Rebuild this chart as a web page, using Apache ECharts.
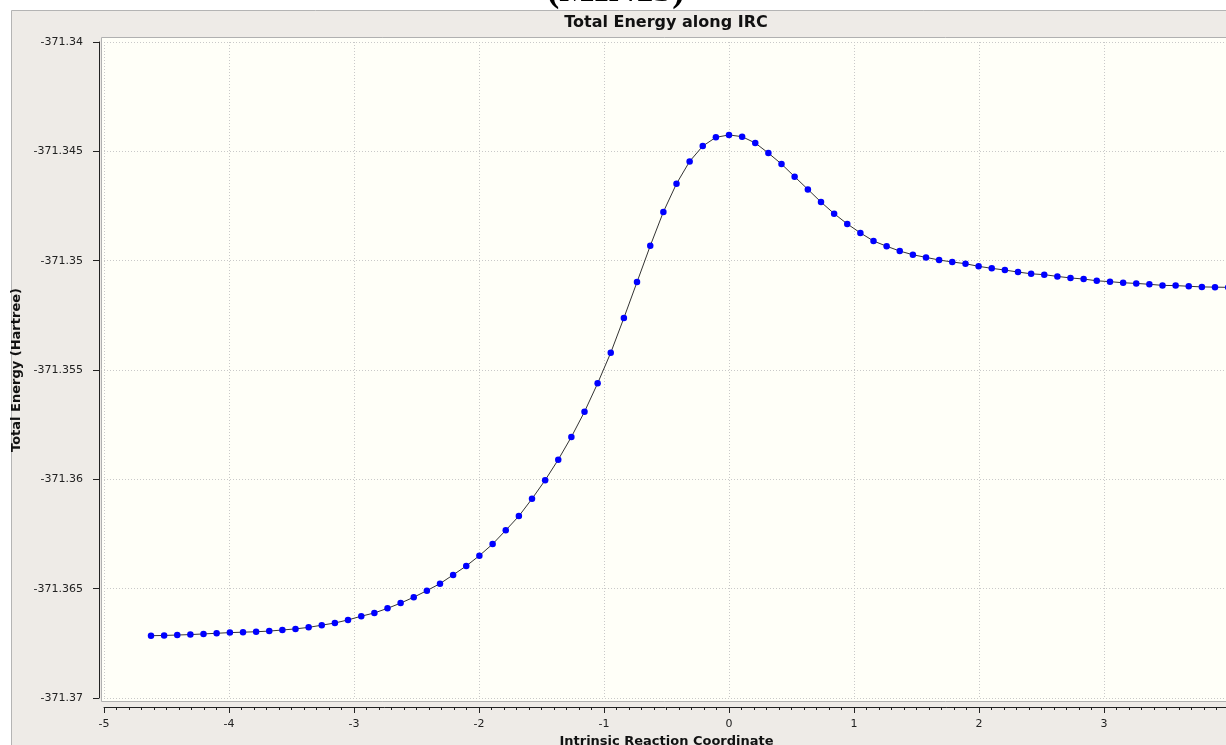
<!DOCTYPE html>
<html>
<head>
<meta charset="utf-8">
<script src="https://cdn.jsdelivr.net/npm/echarts@6/dist/echarts.min.js"></script>
<style>
html,body{margin:0;padding:0;background:#ffffff;}
#chart{width:1226px;height:745px;}
</style>
</head>
<body>
<div id="chart"></div>
<script>
// Intrinsic reaction coordinate values
const irc = [
 -4.624,-4.519,-4.414,-4.309,-4.204,-4.099,-3.993,-3.888,-3.783,-3.678,
 -3.573,-3.468,-3.363,-3.258,-3.153,-3.048,-2.942,-2.837,-2.732,-2.627,
 -2.522,-2.417,-2.312,-2.207,-2.102,-1.997,-1.891,-1.786,-1.681,-1.576,
 -1.471,-1.366,-1.261,-1.156,-1.051,-0.946,-0.841,-0.736,-0.630,-0.525,
 -0.420,-0.315,-0.210,-0.105,0.000,0.105,0.210,0.315,0.420,0.525,
 0.631,0.736,0.841,0.946,1.051,1.156,1.261,1.366,1.471,1.576,
 1.681,1.786,1.892,1.997,2.102,2.207,2.312,2.417,2.522,2.627,
 2.732,2.837,2.942,3.048,3.153,3.258,3.363,3.468,3.573,3.678,
 3.783,3.888,3.993
];
// Total energy (Hartree) at each IRC point
const energy = [
 -371.36715,-371.36714,-371.36712,-371.36710,-371.36707,-371.36704,-371.36701,-371.36699,-371.36697,-371.36694,
 -371.36689,-371.36684,-371.36677,-371.36667,-371.36657,-371.36643,-371.36626,-371.36611,-371.36590,-371.36566,
 -371.36539,-371.36509,-371.36477,-371.36437,-371.36396,-371.36349,-371.36296,-371.36233,-371.36168,-371.36089,
 -371.36004,-371.35910,-371.35806,-371.35691,-371.35561,-371.35421,-371.35262,-371.35098,-371.34932,-371.34777,
 -371.34648,-371.34546,-371.34476,-371.34436,-371.34425,-371.34433,-371.34462,-371.34508,-371.34558,-371.34616,
 -371.34674,-371.34732,-371.34785,-371.34832,-371.34873,-371.34910,-371.34934,-371.34956,-371.34973,-371.34985,
 -371.34997,-371.35006,-371.35014,-371.35026,-371.35035,-371.35043,-371.35052,-371.35060,-371.35064,-371.35072,
 -371.35079,-371.35084,-371.35092,-371.35096,-371.35101,-371.35104,-371.35108,-371.35113,-371.35114,-371.35117,
 -371.35120,-371.35121,-371.35122
];
const xRange = [-5, 4];
const yRange = [-371.37, -371.34];
const titleText = 'Total Energy along IRC';
const topText = '(MIN13)';
const xName = 'Intrinsic Reaction Coordinate';
const yName = 'Total Energy (Hartree)';

const chart = echarts.init(document.getElementById('chart'));
const FONT = 'DejaVu Sans';
const points = irc.map((x, i) => [x, energy[i]]);

chart.setOption({
  backgroundColor: '#ffffff',
  animation: false,
  graphic: [
    { type: 'text', z: -30, left: 547, top: -27,
      style: { text: topText, font: 'bold 37px "Liberation Serif"', fill: '#000' } },
    { type: 'rect', z: -20, shape: { x: 11.5, y: 10.5, width: 1240, height: 760 },
      style: { fill: '#eeebe7', stroke: '#b4b4b4', lineWidth: 1 } },
    { type: 'rect', z: -10, shape: { x: 101.5, y: 37.5, width: 1140, height: 664 },
      style: { fill: '#fffff8', stroke: '#b0b0b0', lineWidth: 1 } }
  ],
  title: {
    text: titleText, left: 666, top: 14, textAlign: 'center', padding: 0,
    textStyle: { fontFamily: FONT, fontWeight: 'bold', fontSize: 16, lineHeight: 18, color: '#111' }
  },
  grid: { left: 104, top: 42, width: 1125, height: 656, containLabel: false, outerBoundsMode: 'none' },
  xAxis: {
    type: 'value', min: xRange[0], max: xRange[1], interval: 1, offset: 9,
    name: xName, nameLocation: 'middle', nameGap: 25,
    nameTextStyle: { fontFamily: FONT, fontWeight: 'bold', fontSize: 13, color: '#111' },
    axisLine: { show: true, onZero: false, lineStyle: { color: '#222', width: 1 } },
    axisTick: { show: true, inside: false, length: 6, lineStyle: { color: '#222' } },
    minorTick: { show: true, splitNumber: 10, length: 3, lineStyle: { color: '#222' } },
    axisLabel: { margin: 12, fontFamily: FONT, fontSize: 11, color: '#222' },
    splitLine: { show: true, lineStyle: { color: '#c9c9c9', type: [1, 2], width: 1 } }
  },
  yAxis: {
    type: 'value', min: yRange[0], max: yRange[1], interval: 0.005, offset: 5,
    name: yName, nameLocation: 'middle', nameGap: 68, nameRotate: 90,
    nameTextStyle: { fontFamily: FONT, fontWeight: 'bold', fontSize: 13, color: '#111' },
    axisLine: { show: true, onZero: false, lineStyle: { color: '#222', width: 1 } },
    axisTick: { show: true, inside: false, length: 6, lineStyle: { color: '#222' } },
    axisLabel: { margin: 16, fontFamily: FONT, fontSize: 11, color: '#222' },
    splitLine: { show: true, lineStyle: { color: '#c9c9c9', type: [1, 2], width: 1 } }
  },
  series: [{
    type: 'line', data: points, smooth: false,
    symbol: 'circle', symbolSize: 6.5, showSymbol: true,
    lineStyle: { color: '#333333', width: 1 },
    itemStyle: { color: '#0000ff', borderWidth: 0 },
    clip: true
  }]
});
</script>
</body>
</html>
